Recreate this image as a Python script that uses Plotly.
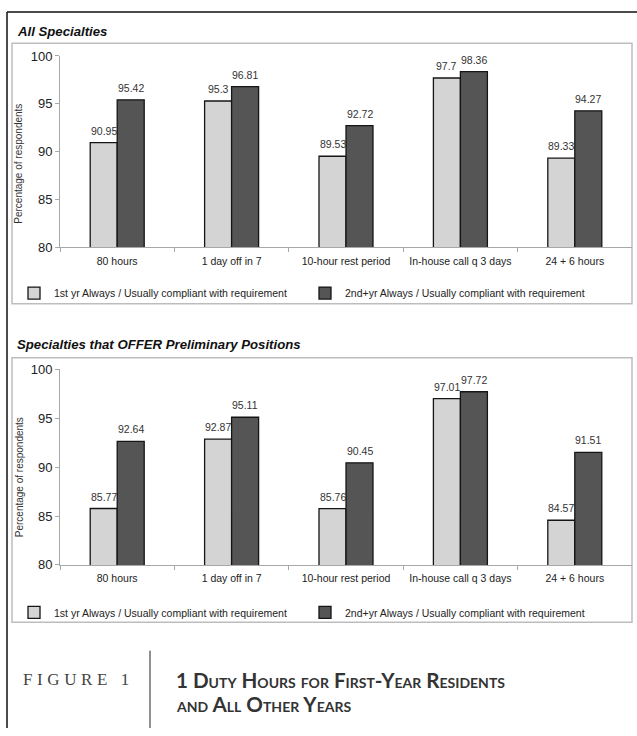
import plotly.graph_objects as go

W, H = 637, 736

categories = ["80 hours", "1 day off in 7", "10-hour rest period",
              "In-house call q 3 days", "24 + 6 hours"]
all_first = [90.95, 95.3, 89.53, 97.7, 89.33]
all_second = [95.42, 96.81, 92.72, 98.36, 94.27]
offer_first = [85.77, 92.87, 85.76, 97.01, 84.57]
offer_second = [92.64, 95.11, 90.45, 97.72, 91.51]
y_ticks = [80, 85, 90, 95, 100]
series_names = ["1st yr Always / Usually compliant with requirement",
                "2nd+yr Always / Usually compliant with requirement"]
panel_titles = ["All Specialties", "Specialties that OFFER Preliminary Positions"]
figure_label = "FIGURE 1"
figure_title_lines = ["1 Duty Hours for First-Year Residents", "and All Other Years"]
y_title = "Percentage of respondents"


def px(x):
    return x / W


def py(y):
    return 1 - y / H


LIGHT = "#d4d4d4"
DARK = "#555555"
EDGE = "#151515"
AXIS = "#a8a8a8"
SANS = "Liberation Sans, Arial, sans-serif"

fig = go.Figure()

panels = [
    ("x", "y", ("legend", "legend2"), all_first, all_second),
    ("x2", "y2", ("legend3", "legend4"), offer_first, offer_second),
]
for xa, ya, lgs, first, second in panels:
    for name, vals, col, lg in [(series_names[0], first, LIGHT, lgs[0]),
                                (series_names[1], second, DARK, lgs[1])]:
        fig.add_trace(go.Bar(
            x=categories, y=vals, name=name, xaxis=xa, yaxis=ya, legend=lg,
            showlegend=True,
            marker=dict(color=col, line=dict(color=EDGE, width=1.3)),
            hoverinfo="x+y",
        ))

# data labels
annotations = []
BAR_HALF = 13.5
for xa, ya, lgs, first, second in panels:
    for vals, shift in [(first, -BAR_HALF), (second, BAR_HALF)]:
        for c, v in zip(categories, vals):
            annotations.append(dict(
                x=c, y=v, xref=xa, yref=ya, text=f"{v:g}", showarrow=False,
                xshift=shift, yshift=4, yanchor="bottom", xanchor="center",
                font=dict(family=SANS, size=10.5, color="#333"),
            ))

# panel titles
for title, ypos in zip(panel_titles, [25, 345]):
    annotations.append(dict(
        x=px(15), y=py(ypos), xref="paper", yref="paper", text=title,
        showarrow=False, xanchor="left", yanchor="middle",
        font=dict(family=SANS, size=13.2, color="#111", weight="bold", style="italic"),
    ))

# y axis titles
for ypos in [160, 480]:
    annotations.append(dict(
        x=px(19), y=py(ypos), xref="paper", yref="paper", text=y_title,
        showarrow=False, textangle=-90, xanchor="center", yanchor="middle",
        font=dict(family=SANS, size=10, color="#333"),
    ))

# caption
annotations.append(dict(
    x=px(21), y=py(686), xref="paper", yref="paper",
    text=f'<span style="letter-spacing:4.6px">{figure_label}</span>',
    showarrow=False, xanchor="left", yanchor="middle",
    font=dict(family="Liberation Serif, Times New Roman, serif", size=17, color="#444"),
))
for line, ypos in zip(figure_title_lines, [687, 711]):
    annotations.append(dict(
        x=px(174), y=py(ypos), xref="paper", yref="paper", text=line,
        showarrow=False, xanchor="left", yanchor="middle", align="left",
        font=dict(family="Lato, Open Sans, sans-serif", size=20.6, color="#333",
                  weight="bold", variant="small-caps"),
    ))

shapes = [
    # outer frame
    dict(type="line", xref="paper", yref="paper", x0=px(7), x1=px(637), y0=py(5), y1=py(5),
         line=dict(color="#111", width=1.5)),
    dict(type="line", xref="paper", yref="paper", x0=px(7), x1=px(7), y0=py(5), y1=py(736),
         line=dict(color="#111", width=1.5)),
    # chart boxes
    dict(type="rect", xref="paper", yref="paper", x0=px(12), x1=px(632), y0=py(37), y1=py(303),
         line=dict(color="#bdbdbd", width=1.5), layer="below"),
    dict(type="rect", xref="paper", yref="paper", x0=px(12), x1=px(632), y0=py(358), y1=py(628),
         line=dict(color="#bdbdbd", width=1.5), layer="below"),
    # caption separator
    dict(type="line", xref="paper", yref="paper", x0=px(150), x1=px(150), y0=py(657), y1=py(736),
         line=dict(color="#222", width=1)),
]

xaxis_common = dict(
    showline=True, linecolor=AXIS, linewidth=1, ticks="outside", tickson="boundaries",
    ticklen=4, tickcolor=AXIS, tickfont=dict(family=SANS, size=10.5, color="#222"),
    ticklabelstandoff=4, showgrid=False, zeroline=False, fixedrange=True,
)
yaxis_common = dict(
    range=[80, 100], tickvals=y_ticks, showline=True, linecolor=AXIS, linewidth=1,
    ticks="outside", ticklen=4, tickcolor=AXIS, showgrid=False, zeroline=False,
    tickfont=dict(family=SANS, size=13, color="#222"), fixedrange=True,
)

legend_common = dict(
    orientation="h", xanchor="left", yanchor="middle", bgcolor="rgba(0,0,0,0)",
    font=dict(family=SANS, size=10.5, color="#222"), visible=True,
)

fig.update_layout(
    width=W, height=H, margin=dict(l=0, r=0, t=0, b=0),
    paper_bgcolor="white", plot_bgcolor="white", showlegend=True,
    barmode="group", bargap=0.528, bargroupgap=0,
    font=dict(family=SANS, color="#222"),
    xaxis=dict(domain=[px(60), px(632)], anchor="y", **xaxis_common),
    yaxis=dict(domain=[py(245.5), py(50)], anchor="x", **yaxis_common),
    xaxis2=dict(domain=[px(60), px(632)], anchor="y2", **xaxis_common),
    yaxis2=dict(domain=[py(569.5), py(370)], anchor="x2", **yaxis_common),
    legend=dict(x=px(14), y=py(292), **legend_common),
    legend2=dict(x=px(305), y=py(292), **legend_common),
    legend3=dict(x=px(14), y=py(618), **legend_common),
    legend4=dict(x=px(305), y=py(618), **legend_common),
    annotations=annotations, shapes=shapes,
)

fig.write_html(
    "out.html",
    config={"displayModeBar": False},
    post_script="document.body.style.margin='0px';document.body.style.overflow='hidden';",
)
